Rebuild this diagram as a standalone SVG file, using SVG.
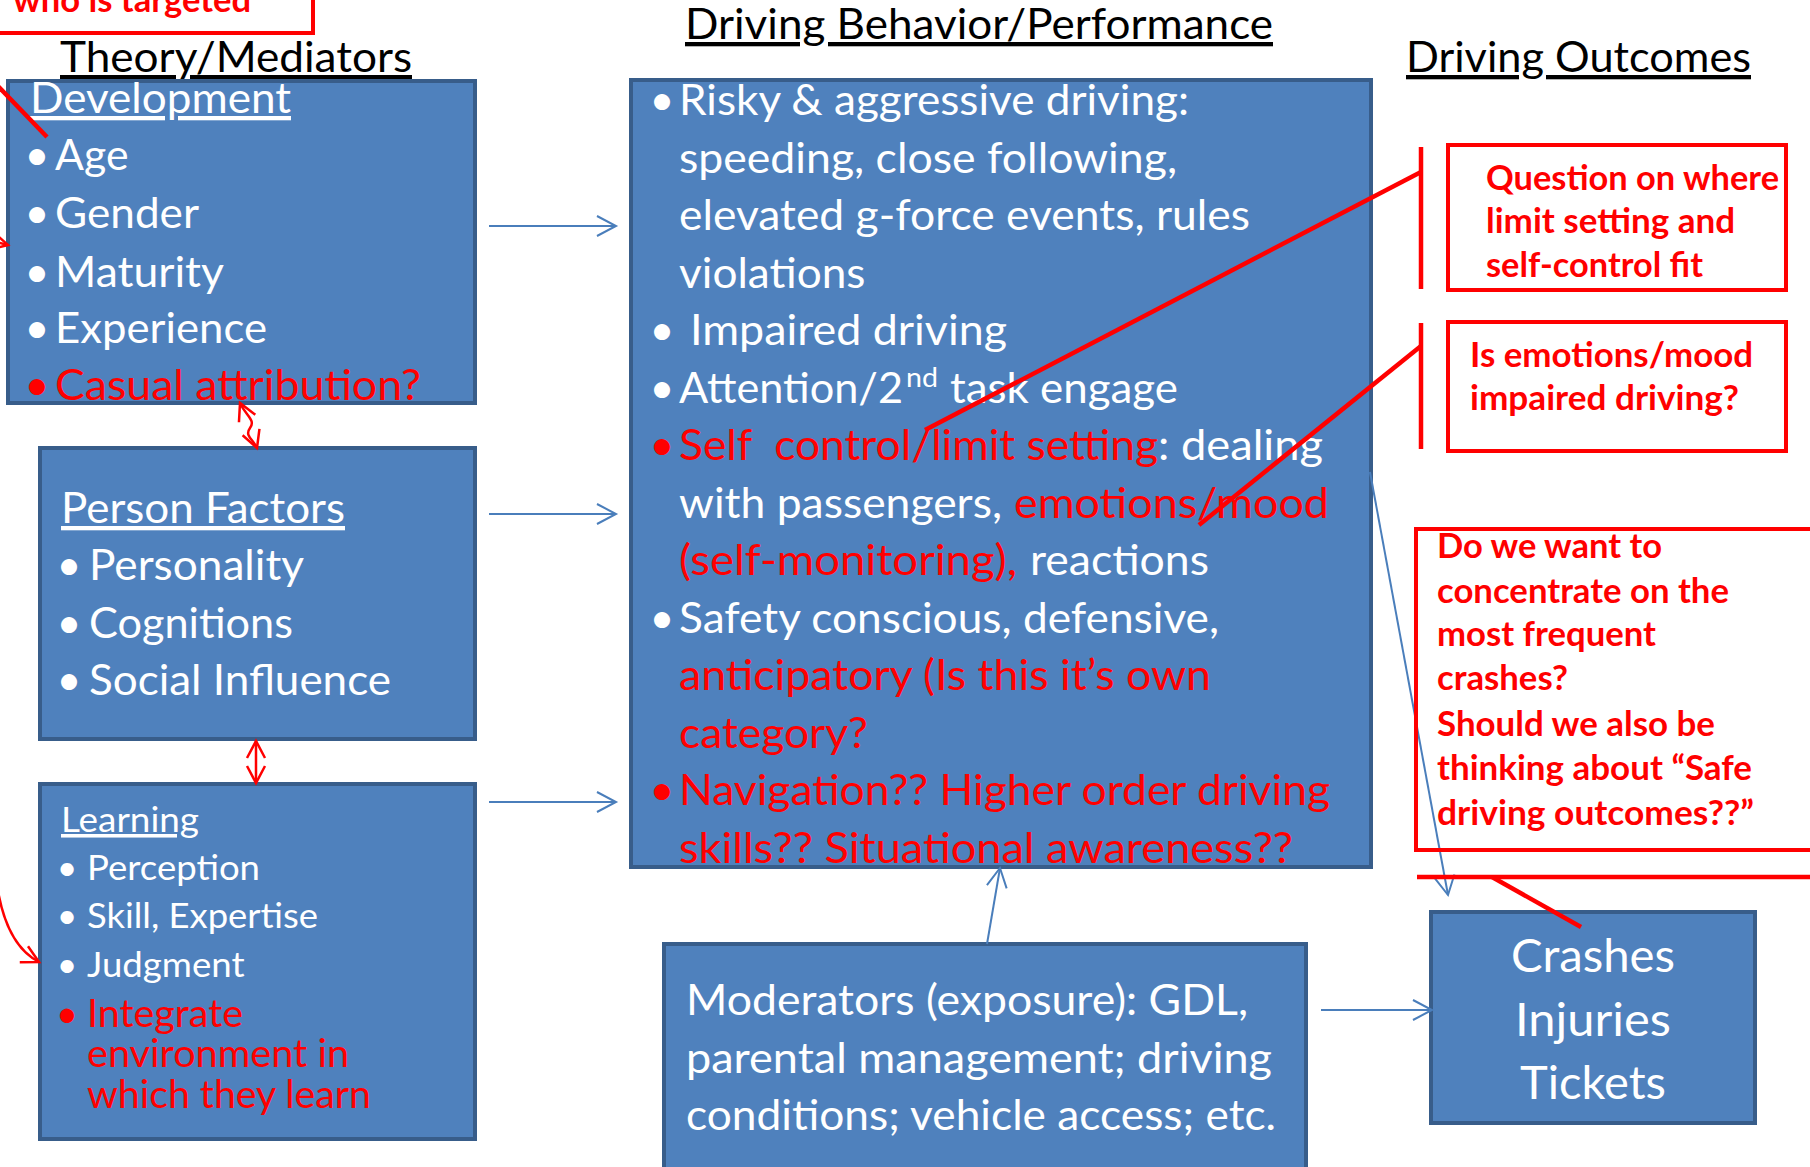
<svg xmlns="http://www.w3.org/2000/svg" width="1810" height="1167" viewBox="0 0 1810 1167">
  <style>
    text { font-family: Lato, "Liberation Sans", sans-serif; font-size: 43px; }
    .box { fill: #4F81BD; stroke: #385D8A; stroke-width: 4; }
    .w { fill: #FFFFFF; }
    .r { fill: #FF0000; }
    .hd { fill: #000000; text-decoration: underline; }
    .u { text-decoration: underline; }
    .sm { font-size: 35.5px; }
    .smr { font-size: 38px; }
    .big { font-size: 47px; }
    .nt { fill: #FF0000; font-weight: 700; font-size: 33.5px; }
    .bl { text-anchor: middle; }
    .note { fill: none; stroke: #FF0000; stroke-width: 4; }
    .callout { stroke: #FF0000; stroke-width: 4.5; fill: none; }
    .arrow { stroke: #4A7EBB; stroke-width: 2; fill: none; marker-end: url(#ahBlue); }
    .rarrow { stroke: #FF0000; stroke-width: 2.5; fill: none; }
    .two { marker-start: url(#ahRed); marker-end: url(#ahRed); }
    .one { marker-end: url(#ahRed); }
  </style>
  <defs>
    <marker id="ahBlue" markerUnits="userSpaceOnUse" markerWidth="26" markerHeight="26" viewBox="-23 -13 26 26" refX="0" refY="0" orient="auto">
      <path d="M-19,-10 L0,0 L-19,10" fill="none" stroke="#4A7EBB" stroke-width="2"/>
    </marker>
    <marker id="ahRed" markerUnits="userSpaceOnUse" markerWidth="26" markerHeight="26" viewBox="-23 -13 26 26" refX="0" refY="0" orient="auto-start-reverse">
      <path d="M-17,-9 L0,0 L-17,9" fill="none" stroke="#FF0000" stroke-width="2.5"/>
    </marker>
  </defs>

  <rect width="1810" height="1167" fill="#FFFFFF"/>

  <!-- column headings -->
  <g id="headings">
    <text class="hd" x="60" y="72" textLength="352" lengthAdjust="spacingAndGlyphs">Theory/Mediators</text>
    <text class="hd" x="685" y="39" textLength="588" lengthAdjust="spacingAndGlyphs">Driving Behavior/Performance</text>
    <text class="hd" x="1406" y="72" textLength="345" lengthAdjust="spacingAndGlyphs">Driving Outcomes</text>
  </g>

  <!-- Development -->
  <g id="development">
    <rect class="box" x="8" y="81" width="467" height="322"/>
    <text class="w u" x="30" y="113" textLength="261" lengthAdjust="spacingAndGlyphs">Development</text>
    <text class="w bl" x="37" y="170">•</text>
    <text class="w" x="55" y="170" textLength="73.5" lengthAdjust="spacingAndGlyphs">Age</text>
    <text class="w bl" x="37" y="228">•</text>
    <text class="w" x="55" y="228" textLength="144" lengthAdjust="spacingAndGlyphs">Gender</text>
    <text class="w bl" x="37" y="287">•</text>
    <text class="w" x="55" y="287" textLength="169" lengthAdjust="spacingAndGlyphs">Maturity</text>
    <text class="w bl" x="37" y="343">•</text>
    <text class="w" x="55" y="343" textLength="212" lengthAdjust="spacingAndGlyphs">Experience</text>
    <text class="r bl" x="37" y="400">•</text>
    <text class="r" x="55" y="400" textLength="366" lengthAdjust="spacingAndGlyphs">Casual attribution?</text>
  </g>

  <!-- Person Factors -->
  <g id="person-factors">
    <rect class="box" x="40" y="448" width="435" height="291"/>
    <text class="w u" x="61" y="523" textLength="284" lengthAdjust="spacingAndGlyphs">Person Factors</text>
    <text class="w bl" x="69" y="580">•</text>
    <text class="w" x="89" y="580" textLength="215" lengthAdjust="spacingAndGlyphs">Personality</text>
    <text class="w bl" x="69" y="638">•</text>
    <text class="w" x="89" y="638" textLength="204" lengthAdjust="spacingAndGlyphs">Cognitions</text>
    <text class="w bl" x="69" y="695">•</text>
    <text class="w" x="89" y="695" textLength="302" lengthAdjust="spacingAndGlyphs">Social Influence</text>
  </g>

  <!-- Learning -->
  <g id="learning">
    <rect class="box" x="40" y="784" width="435" height="355"/>
    <text class="w u sm" x="61" y="832" textLength="138" lengthAdjust="spacingAndGlyphs">Learning</text>
    <text class="w sm bl" x="67" y="880">•</text>
    <text class="w sm" x="87" y="880" textLength="173" lengthAdjust="spacingAndGlyphs">Perception</text>
    <text class="w sm bl" x="67" y="928">•</text>
    <text class="w sm" x="87" y="928" textLength="231" lengthAdjust="spacingAndGlyphs">Skill, Expertise</text>
    <text class="w sm bl" x="67" y="977">•</text>
    <text class="w sm" x="87" y="977" textLength="157.5" lengthAdjust="spacingAndGlyphs">Judgment</text>
    <text class="r smr bl" x="67" y="1027">•</text>
    <text class="r smr" x="87" y="1027" textLength="156" lengthAdjust="spacingAndGlyphs">Integrate</text>
    <text class="r smr" x="87" y="1067" textLength="262" lengthAdjust="spacingAndGlyphs">environment in</text>
    <text class="r smr" x="87" y="1108" textLength="284" lengthAdjust="spacingAndGlyphs">which they learn</text>
  </g>

  <!-- Driving behavior / performance -->
  <g id="driving-behavior">
    <rect class="box" x="631" y="80" width="740" height="787"/>
    <text class="w bl" x="662" y="115">•</text>
    <text class="w" x="679" y="115" textLength="510" lengthAdjust="spacingAndGlyphs">Risky &amp; aggressive driving:</text>
    <text class="w" x="679" y="172.5" textLength="498" lengthAdjust="spacingAndGlyphs">speeding, close following,</text>
    <text class="w" x="679" y="230" textLength="571" lengthAdjust="spacingAndGlyphs">elevated g-force events, rules</text>
    <text class="w" x="679" y="287.5" textLength="186.5" lengthAdjust="spacingAndGlyphs">violations</text>
    <text class="w bl" x="662" y="345">•</text>
    <text class="w" x="690" y="345" textLength="317" lengthAdjust="spacingAndGlyphs">Impaired driving</text>
    <text class="w bl" x="662" y="402.5">•</text>
    <text class="w" x="679" y="402.5" textLength="224" lengthAdjust="spacingAndGlyphs">Attention/2</text>
    <text class="w" x="906" y="387" style="font-size:26px" textLength="32" lengthAdjust="spacingAndGlyphs">nd</text>
    <text class="w" x="950" y="402.5" textLength="228" lengthAdjust="spacingAndGlyphs">task engage</text>
    <text class="r bl" x="662" y="460">•</text>
    <text class="r" x="679" y="460" style="white-space:pre" textLength="479" lengthAdjust="spacingAndGlyphs">Self  control/limit setting</text>
    <text class="w" x="1158" y="460" textLength="165" lengthAdjust="spacingAndGlyphs">: dealing</text>
    <text class="w" x="679" y="517.5" textLength="323" lengthAdjust="spacingAndGlyphs">with passengers,</text>
    <text class="r" x="1014" y="517.5" textLength="315" lengthAdjust="spacingAndGlyphs">emotions/mood</text>
    <text class="r" x="679" y="575" textLength="338" lengthAdjust="spacingAndGlyphs">(self-monitoring),</text>
    <text class="w" x="1030" y="575" textLength="179" lengthAdjust="spacingAndGlyphs">reactions</text>
    <text class="w bl" x="662" y="632.5">•</text>
    <text class="w" x="679" y="632.5" textLength="540" lengthAdjust="spacingAndGlyphs">Safety conscious, defensive,</text>
    <text class="r" x="679" y="690" textLength="532" lengthAdjust="spacingAndGlyphs">anticipatory (Is this it’s own</text>
    <text class="r" x="679" y="747.5" textLength="189" lengthAdjust="spacingAndGlyphs">category?</text>
    <text class="r bl" x="662" y="805">•</text>
    <text class="r" x="679" y="805" textLength="651" lengthAdjust="spacingAndGlyphs">Navigation?? Higher order driving</text>
    <text class="r" x="679" y="862.5" textLength="614" lengthAdjust="spacingAndGlyphs">skills?? Situational awareness??</text>
  </g>

  <!-- Moderators -->
  <g id="moderators">
    <rect class="box" x="664" y="944" width="642" height="240"/>
    <text class="w" x="686" y="1015" textLength="562" lengthAdjust="spacingAndGlyphs">Moderators (exposure): GDL,</text>
    <text class="w" x="686" y="1073" textLength="586" lengthAdjust="spacingAndGlyphs">parental management; driving</text>
    <text class="w" x="686" y="1130" textLength="590" lengthAdjust="spacingAndGlyphs">conditions; vehicle access; etc.</text>
  </g>

  <!-- Driving outcomes -->
  <g id="outcomes">
    <rect class="box" x="1431" y="912" width="324" height="211"/>
    <text class="w big bl" x="1593" y="972" textLength="164" lengthAdjust="spacingAndGlyphs">Crashes</text>
    <text class="w big bl" x="1593" y="1036" textLength="156" lengthAdjust="spacingAndGlyphs">Injuries</text>
    <text class="w big bl" x="1593" y="1099" textLength="146" lengthAdjust="spacingAndGlyphs">Tickets</text>
  </g>

  <!-- connectors -->
  <g id="connectors">
    <line class="arrow" x1="489" y1="226" x2="616" y2="226"/>
    <line class="arrow" x1="489" y1="514" x2="616" y2="514"/>
    <line class="arrow" x1="489" y1="802" x2="616" y2="802"/>
    <line class="arrow" x1="987" y1="944" x2="1000" y2="868"/>
    <line class="arrow" x1="1321" y1="1010" x2="1432" y2="1010"/>
    <line class="arrow" x1="1370" y1="472" x2="1448" y2="895"/>
    <path class="rarrow two" d="M240,403 C246,416 256,420 250,428 C244,436 254,440 257,448"/>
    <line class="rarrow two" x1="256" y1="741" x2="256" y2="783"/>
    <path class="rarrow one" d="M-3,885 Q6,945 39,962"/>
    <line class="rarrow one" x1="-8" y1="241" x2="8" y2="245"/>
  </g>

  <!-- review notes -->
  <g id="note-targeted">
    <rect class="note" x="-10" y="-10" width="323" height="43"/>
    <text class="nt" x="13" y="12" textLength="238" lengthAdjust="spacingAndGlyphs">who is targeted</text>
  </g>
  <g id="note-limit-setting">
    <rect class="note" x="1448" y="145" width="338" height="145"/>
    <text class="nt" x="1486" y="190" textLength="293" lengthAdjust="spacingAndGlyphs">Question on where</text>
    <text class="nt" x="1486" y="233" textLength="249" lengthAdjust="spacingAndGlyphs">limit setting and</text>
    <text class="nt" x="1486" y="277" textLength="217" lengthAdjust="spacingAndGlyphs">self-control fit</text>
  </g>
  <g id="note-emotions">
    <rect class="note" x="1448" y="322" width="338" height="129"/>
    <text class="nt" x="1470" y="367" textLength="283" lengthAdjust="spacingAndGlyphs">Is emotions/mood</text>
    <text class="nt" x="1470" y="410" textLength="269" lengthAdjust="spacingAndGlyphs">impaired driving?</text>
  </g>
  <g id="note-crashes">
    <rect class="note" x="1416" y="529" width="420" height="321"/>
    <text class="nt" x="1437" y="558" textLength="225" lengthAdjust="spacingAndGlyphs">Do we want to</text>
    <text class="nt" x="1437" y="603" textLength="292" lengthAdjust="spacingAndGlyphs">concentrate on the</text>
    <text class="nt" x="1437" y="646" textLength="219" lengthAdjust="spacingAndGlyphs">most frequent</text>
    <text class="nt" x="1437" y="690" textLength="131" lengthAdjust="spacingAndGlyphs">crashes?</text>
    <text class="nt" x="1437" y="736" textLength="278" lengthAdjust="spacingAndGlyphs">Should we also be</text>
    <text class="nt" x="1437" y="780" textLength="315" lengthAdjust="spacingAndGlyphs">thinking about “Safe</text>
    <text class="nt" x="1437" y="825" textLength="317" lengthAdjust="spacingAndGlyphs">driving outcomes??”</text>
  </g>

  <!-- note brackets and pointer lines -->
  <g id="note-pointers">
    <line class="callout" x1="1421" y1="147" x2="1421" y2="289"/>
    <line class="callout" x1="1421" y1="323" x2="1421" y2="449"/>
    <line class="callout" x1="1421" y1="172" x2="925" y2="430"/>
    <line class="callout" x1="1421" y1="346" x2="1199" y2="525"/>
    <line class="callout" x1="1417" y1="877" x2="1820" y2="877"/>
    <line class="callout" x1="1492" y1="877" x2="1581" y2="927"/>
    <line class="callout" x1="-10" y1="78" x2="47" y2="137"/>
  </g>
</svg>
